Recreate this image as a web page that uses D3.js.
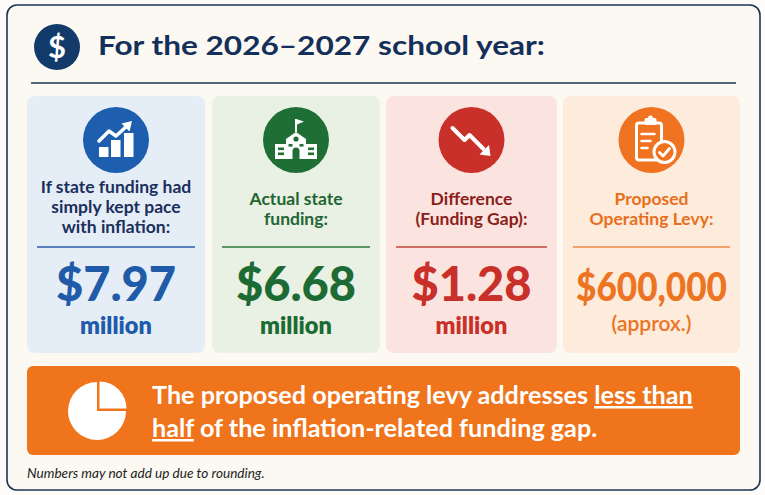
<!DOCTYPE html>
<html>
<head>
<meta charset="utf-8">
<script src="https://cdn.jsdelivr.net/npm/d3@7"></script>
<style>
  body { margin: 0; background: #fdfcf9; }
  svg { display: block; font-family: Lato, "Open Sans", sans-serif; }
</style>
</head>
<body>
<div id="chart"></div>
<script>
// chart text + values
var titleText = "For the 2026\u20132027 school year:";
var panelKeys = ["inflation", "actual", "gap", "levy"];
var panelLabels = [
  ["If state funding had", "simply kept pace", "with inflation:"],
  ["Actual state", "funding:"],
  ["Difference", "(Funding Gap):"],
  ["Proposed", "Operating Levy:"]
];
var panelValues = [7.97, 6.68, 1.28, 0.60];   // $ millions
var panelUnits = ["million", "million", "million", "(approx.)"];
var pieIconShares = [25, 75];
var bannerLine1 = ["The proposed operating levy addresses ", "less than"];
var bannerLine2 = ["half", " of the inflation-related funding gap."];
var footnote = "Numbers may not add up due to rounding.";

// colours per panel
var panelBg = ["#e5edf7", "#e9f1e4", "#fbe4df", "#fdebdb"];
var iconFill = ["#1d5fae", "#1f6e35", "#c9302a", "#ef7320"];
var labelColor = ["#1b2f5c", "#1f6532", "#8b1d1b", "#e86f1c"];
var valueColor = ["#1f5ba8", "#1d6b34", "#c93029", "#ec7422"];
var ruleColor = ["#2a5da8", "#2f7a3f", "#c0443a", "#eb8a4a"];

var svgWidth = 765;
var svgHeight = 495;
var navy = "#14305a";

var svg = d3.select("#chart")
  .append("svg")
  .attr("width", svgWidth)
  .attr("height", svgHeight);

// outer card
svg.append("rect")
  .attr("x", 7).attr("y", 5)
  .attr("width", 753).attr("height", 485)
  .attr("rx", 10)
  .attr("fill", "#fcf9f3")
  .attr("stroke", "#1d3557")
  .attr("stroke-width", 1.6);

// title
svg.append("circle").attr("cx", 57).attr("cy", 47).attr("r", 23).attr("fill", "#123a6b");
svg.append("text")
  .attr("x", 57).attr("y", 58)
  .attr("text-anchor", "middle")
  .attr("font-size", 31).attr("font-weight", 700)
  .attr("fill", "#fff")
  .text("$");
svg.append("text")
  .attr("x", 98).attr("y", 55)
  .attr("font-size", 27).attr("font-weight", 700)
  .attr("textLength", 447).attr("lengthAdjust", "spacingAndGlyphs")
  .attr("fill", navy)
  .text(titleText);
svg.append("line")
  .attr("x1", 31).attr("x2", 736)
  .attr("y1", 83).attr("y2", 83)
  .attr("stroke", "#1d3557").attr("stroke-width", 1.5);

// panel layout
var xPanel = d3.scaleOrdinal().domain(panelKeys).range([27, 212, 386, 563]);
var wPanel = d3.scaleOrdinal().domain(panelKeys).range([178, 168, 171, 177]);
var panelTop = 96, panelH = 257;

var fmtMillions = d3.format("$.2f");
var fmtDollars = d3.format("$,");

var panels = svg.selectAll("g.panel")
  .data(panelKeys)
  .enter()
  .append("g")
  .attr("class", "panel")
  .attr("transform", d => `translate(${xPanel(d)}, ${panelTop})`);

panels.append("rect")
  .attr("width", d => wPanel(d))
  .attr("height", panelH)
  .attr("rx", 8)
  .attr("fill", (d, i) => panelBg[i]);

// icons
var icons = panels.append("g")
  .attr("transform", d => `translate(${wPanel(d) / 2}, 44)`);
icons.append("circle")
  .attr("r", 33)
  .attr("fill", (d, i) => iconFill[i]);

icons.each(function(d, i) {
  var g = d3.select(this);
  var col = iconFill[i];
  if (d == "inflation") {
    [[-17, 7], [-5, 0], [8, -7]].forEach(b => {
      g.append("rect").attr("x", b[0]).attr("y", b[1]).attr("width", 9.5).attr("height", 17 - b[1]).attr("fill", "#fff");
    });
    g.append("polyline")
      .attr("points", "-17,1 -7,-9 0,-4 11,-14")
      .attr("fill", "none").attr("stroke", "#fff").attr("stroke-width", 3.5)
      .attr("stroke-linejoin", "round").attr("stroke-linecap", "round");
    g.append("polygon").attr("points", "16,-19 5.5,-16.5 13.5,-8.5").attr("fill", "#fff");
  } else if (d == "actual") {
    g.append("rect").attr("x", -21).attr("y", 4).attr("width", 42).attr("height", 15).attr("fill", "#fff");
    g.append("polygon").attr("points", "-10,19 -10,-1 0,-8 10,-1 10,19").attr("fill", "#fff");
    g.append("line").attr("x1", 0).attr("x2", 0).attr("y1", -8).attr("y2", -21).attr("stroke", "#fff").attr("stroke-width", 2);
    g.append("polygon").attr("points", "0,-21 8,-18.5 0,-15").attr("fill", "#fff");
    g.append("circle").attr("cx", 0).attr("cy", -1).attr("r", 2.6).attr("fill", col);
    g.append("path").attr("d", "M-3.5,19 V11 A3.5,3.5 0 0 1 3.5,11 V19 Z").attr("fill", col);
    [[-18, 7.5], [-18, 12.5], [12, 7.5], [12, 12.5]].forEach(w => {
      g.append("rect").attr("x", w[0]).attr("y", w[1]).attr("width", 6).attr("height", 2.6).attr("fill", col);
    });
    [[-7.5, 4], [3.5, 4]].forEach(w => {
      g.append("rect").attr("x", w[0]).attr("y", w[1]).attr("width", 4).attr("height", 2.6).attr("fill", col);
    });
  } else if (d == "gap") {
    g.append("polyline")
      .attr("points", "-19,-12 -7,0 -2,-5 12,9")
      .attr("fill", "none").attr("stroke", "#fff").attr("stroke-width", 4)
      .attr("stroke-linejoin", "round").attr("stroke-linecap", "round");
    g.append("polygon").attr("points", "19,16 17.5,5 8,14.5").attr("fill", "#fff");
  } else {
    g.append("rect").attr("x", -15).attr("y", -17).attr("width", 25).attr("height", 37).attr("rx", 2.5)
      .attr("fill", "none").attr("stroke", "#fff").attr("stroke-width", 3);
    g.append("rect").attr("x", -7).attr("y", -22).attr("width", 12).attr("height", 7).attr("rx", 2).attr("fill", "#fff");
    g.append("circle").attr("cx", -1).attr("cy", -22).attr("r", 2.5).attr("fill", "#fff");
    [[-10, 3, -6], [-10, -1, 1], [-10, -4, 8]].forEach(l => {
      g.append("line").attr("x1", l[0]).attr("x2", l[1]).attr("y1", l[2]).attr("y2", l[2])
        .attr("stroke", "#fff").attr("stroke-width", 2.5).attr("stroke-linecap", "round");
    });
    g.append("circle").attr("cx", 13).attr("cy", 12).attr("r", 10.5)
      .attr("fill", col).attr("stroke", "#fff").attr("stroke-width", 3);
    g.append("polyline").attr("points", "8,12.5 11.5,16 18,8.5")
      .attr("fill", "none").attr("stroke", "#fff").attr("stroke-width", 2.8)
      .attr("stroke-linecap", "round").attr("stroke-linejoin", "round");
  }
});

// labels
panels.each(function(d, i) {
  var lines = panelLabels[i];
  var y0 = lines.length == 3 ? 97 : 109;
  var t = d3.select(this).append("text")
    .attr("text-anchor", "middle")
    .attr("font-size", 17.5).attr("font-weight", 700)
    .attr("fill", labelColor[i]);
  lines.forEach((s, k) => {
    t.append("tspan").attr("x", wPanel(d) / 2).attr("y", y0 + k * 20).text(s);
  });
});

panels.append("line")
  .attr("x1", 10).attr("x2", d => wPanel(d) - 10)
  .attr("y1", 151).attr("y2", 151)
  .attr("stroke", (d, i) => ruleColor[i]).attr("stroke-width", 1.5);

var small = (d, i) => panelValues[i] < 1;

panels.append("text")
  .attr("x", d => wPanel(d) / 2).attr("y", 205)
  .attr("text-anchor", "middle")
  .attr("font-size", (d, i) => small(d, i) ? 40 : 47)
  .attr("font-weight", 900)
  .attr("fill", (d, i) => valueColor[i])
  .each(function(d, i) {
    if (small(d, i)) d3.select(this).attr("textLength", 151).attr("lengthAdjust", "spacingAndGlyphs");
  })
  .text((d, i) => small(d, i) ? fmtDollars(panelValues[i] * 1e6) : fmtMillions(panelValues[i]));

panels.append("text")
  .attr("x", d => wPanel(d) / 2).attr("y", (d, i) => small(d, i) ? 235 : 238)
  .attr("text-anchor", "middle")
  .attr("font-size", (d, i) => small(d, i) ? 21 : 23.5)
  .attr("font-weight", (d, i) => small(d, i) ? 600 : 800)
  .attr("fill", (d, i) => valueColor[i])
  .text((d, i) => panelUnits[i]);

// banner
svg.append("rect")
  .attr("x", 27).attr("y", 366)
  .attr("width", 713).attr("height", 89)
  .attr("rx", 6)
  .attr("fill", "#ef741c");

var pie = d3.pie().sort(null)(pieIconShares);
var arc = d3.arc().innerRadius(0);
var pieG = svg.append("g").attr("transform", "translate(97, 411)");
pieG.append("path")
  .attr("d", arc.outerRadius(29)(pie[1]))
  .attr("fill", "#fff");
pieG.append("path")
  .attr("transform", "translate(2.5, -2.5)")
  .attr("d", arc.outerRadius(27)(pie[0]))
  .attr("fill", "#fff");

var bannerText = svg.append("text")
  .attr("font-size", 25.2).attr("font-weight", 700)
  .attr("fill", "#fff");
var l1 = bannerText.append("tspan").attr("x", 152).attr("y", 404);
l1.append("tspan").text(bannerLine1[0]);
l1.append("tspan").attr("text-decoration", "underline").text(bannerLine1[1]);
var l2 = bannerText.append("tspan").attr("x", 152).attr("y", 437);
l2.append("tspan").attr("text-decoration", "underline").text(bannerLine2[0]);
l2.append("tspan").text(bannerLine2[1]);

svg.append("text")
  .attr("x", 27).attr("y", 478)
  .attr("font-size", 13.6).attr("font-style", "italic")
  .attr("fill", "#222")
  .text(footnote);
</script>
</body>
</html>
